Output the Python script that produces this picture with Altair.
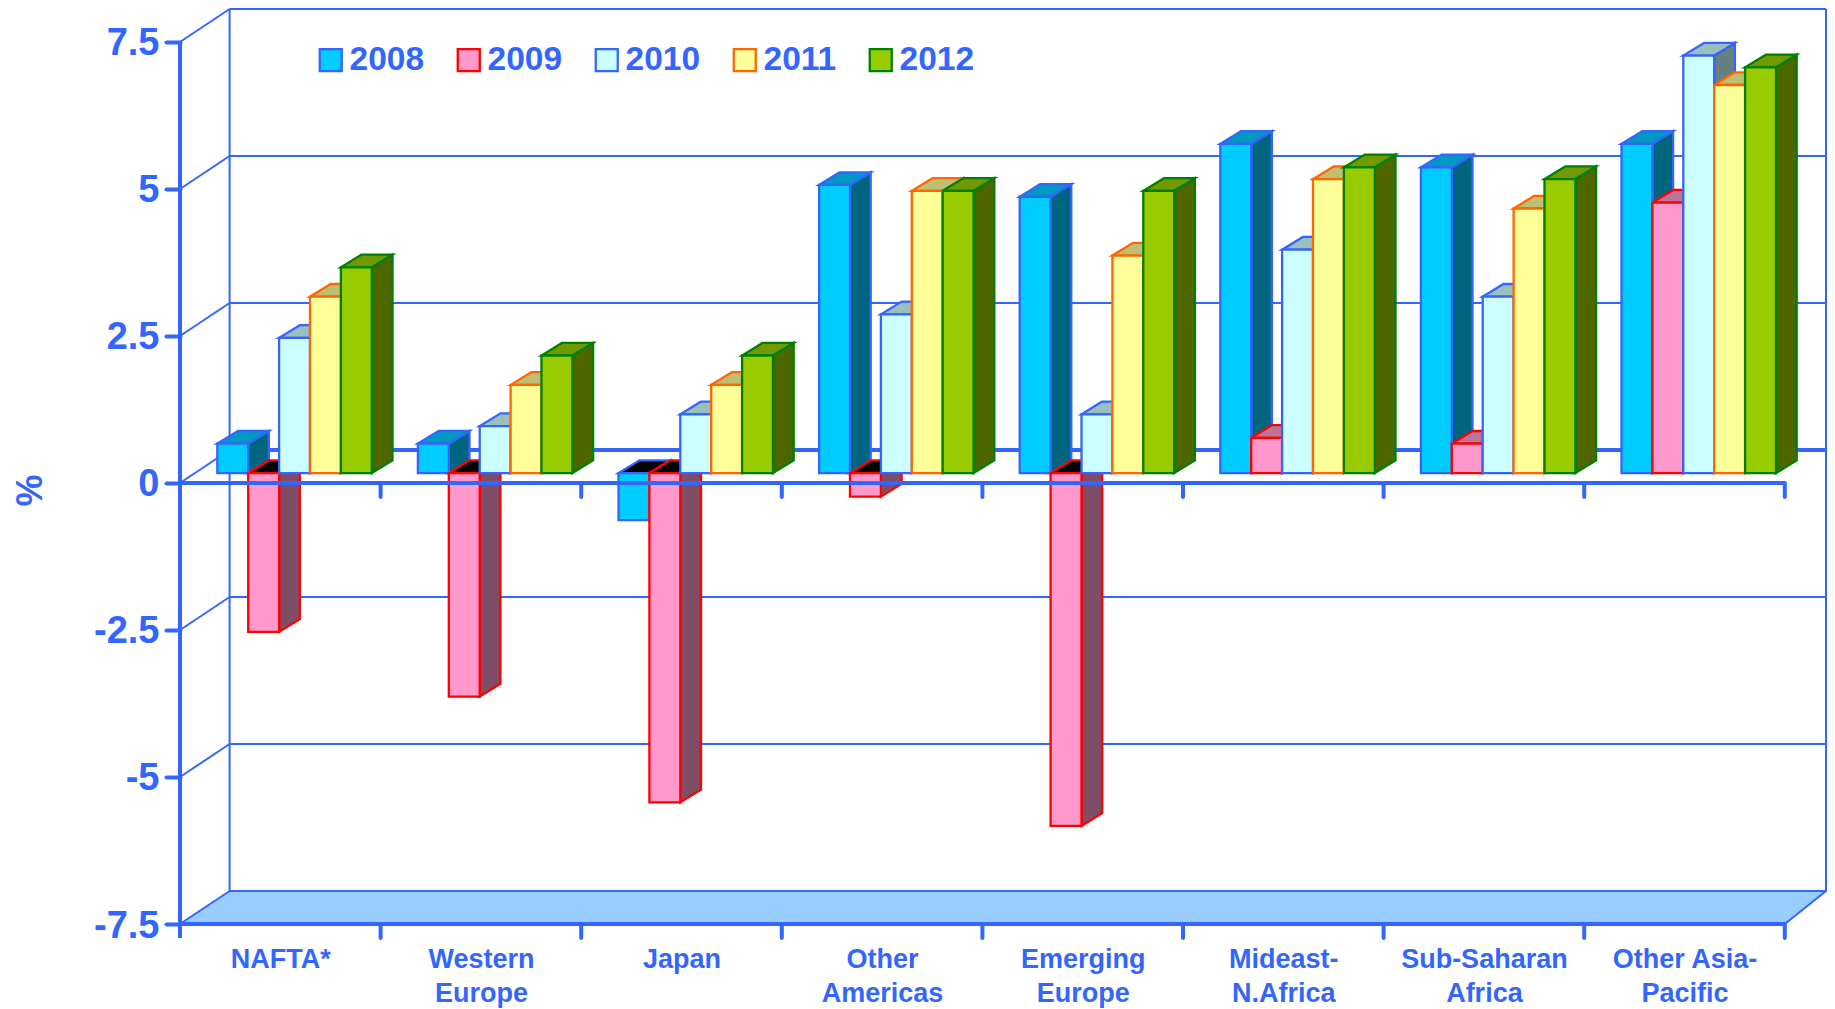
import altair as alt
import pandas as pd

categories = ["NAFTA*", "Western|Europe", "Japan", "Other|Americas", "Emerging|Europe",
              "Mideast-|N.Africa", "Sub-Saharan|Africa", "Other Asia-|Pacific"]
years = ["2008", "2009", "2010", "2011", "2012"]
v2008 = [0.5, 0.5, -0.8, 4.9, 4.7, 5.6, 5.2, 5.6]
v2009 = [-2.7, -3.8, -5.6, -0.4, -6.0, 0.6, 0.5, 4.6]
v2010 = [2.3, 0.8, 1.0, 2.7, 1.0, 3.8, 3.0, 7.1]
v2011 = [3.0, 1.5, 1.5, 4.8, 3.7, 5.0, 4.5, 6.6]
v2012 = [3.5, 2.0, 2.0, 4.8, 4.8, 5.2, 5.0, 6.9]
series = [v2008, v2009, v2010, v2011, v2012]

front_fill = ["#00CCFF", "#FF99CC", "#CCFFFF", "#FFFF99", "#99CC00"]
edge = ["#3366FF", "#FF0000", "#3366FF", "#FF6600", "#008000"]
top_fill = ["#0099BF", "#BF7399", "#99BFBF", "#BFBF73", "#739900"]
side_fill = ["#006680", "#804D66", "#668080", "#808040", "#4D6600"]
blue = "#3366FF"
floor_fill = "#99CCFF"
font = "Liberation Sans"
ticks = [7.5, 5, 2.5, 0, -2.5, -5, -7.5]

# projection of the chart's depth, in axis units
PX_X = 200.6
PX_Y = 58.85
wall_dx = 49.6 / PX_X
wall_dy = 33 / PX_Y
wall_right = 1646 / PX_X
bar_dx = 20.7 / PX_X
bar_dy = 12.7 / PX_Y
base = 9.9 / PX_Y
start = 37.3 / PX_X
bw = 30.9 / PX_X
tick_y = 14 / PX_Y
x_max = 1647 / PX_X
y_max = 7.5 + wall_dy

fronts, sides, tops = [], [], []
for s, vals in enumerate(series):
    for k, v in enumerate(vals):
        L = k + start + s * bw
        R = L + bw
        lo = base + min(v, 0)
        hi = base + max(v, 0)
        fid = f"{s}-{k}"
        fronts.append(dict(year=years[s], x=L, x2=R, y=lo, y2=hi))
        for t in (0, 1):
            sides.append(dict(id=fid, fill=side_fill[s], edge=edge[s],
                              x=R + t * bar_dx, y=lo + t * bar_dy, y2=hi + t * bar_dy))
            tops.append(dict(id=fid, fill=top_fill[s] if v >= 0 else "#000000", edge=edge[s],
                             y=hi + t * bar_dy, x=L + t * bar_dx, x2=R + t * bar_dx))

cat_js = "[" + ",".join("'" + c + "'" for c in categories) + "]"
X = alt.X("x:Q", scale=alt.Scale(domain=[0, x_max], nice=False, zero=False), title=None,
          axis=alt.Axis(values=[i + 0.5 for i in range(8)], domain=False, ticks=False, grid=False,
                        labelExpr=f"split({cat_js}[floor(datum.value)], '|')",
                        labelFont=font, labelFontWeight="bold", labelFontSize=27, labelColor=blue,
                        labelPadding=22, labelLineHeight=34, labelOverlap=False, labelBound=False,
                        labelFlush=False, labelAngle=0, labelAlign="center", labelBaseline="top"))
Y = alt.Y("y:Q", scale=alt.Scale(domain=[-7.5, y_max], nice=False, zero=False), title="%", stack=None,
          axis=alt.Axis(values=ticks, domain=False, grid=False, tickSize=14, tickWidth=4, tickColor=blue,
                        tickCap="round", labelExpr="'' + datum.value",
                        labelFont=font, labelFontWeight="bold", labelFontSize=38, labelColor=blue,
                        labelPadding=7, labelOffset=2, labelOverlap=False, labelBound=False, labelFlush=False,
                        titleFont=font, titleFontWeight="bold", titleFontSize=36, titleColor=blue,
                        titleX=-139, titleY=481, titleAngle=270, titleBaseline="alphabetic",
                        titleAlign="center"))


def lines(rows, width, cap="butt"):
    """rows: list of (x0, y0, x1, y1)"""
    recs = []
    for i, (a, b, c, d) in enumerate(rows):
        recs.append(dict(id=i, seq=0, x=a, y=b))
        recs.append(dict(id=i, seq=1, x=c, y=d))
    return alt.Chart(pd.DataFrame(recs)).mark_line(
        color=blue, strokeWidth=width, strokeCap=cap, interpolate="linear"
    ).encode(x=X, y=Y, detail="id:N", order="seq:Q")


floor_df = pd.DataFrame([
    dict(y=-7.5, x=0, x2=8),
    dict(y=-7.5 + wall_dy, x=wall_dx, x2=wall_right),
])
floor = alt.Chart(floor_df).mark_area(
    orient="horizontal", fill=floor_fill, stroke=blue, strokeWidth=2
).encode(x=X, x2="x2:Q", y=Y)

wall_rows = [(wall_dx, v + wall_dy, wall_right, v + wall_dy) for v in ticks if v not in (0, -7.5)]
wall_rows += [(wall_dx, -7.5 + wall_dy, wall_dx, y_max), (wall_right, -7.5 + wall_dy, wall_right, y_max)]
wall_rows += [(0, v, wall_dx, v + wall_dy) for v in ticks if v != -7.5]
wall = lines(wall_rows, 2)
back_zero = lines([(wall_dx, wall_dy, wall_right, wall_dy)], 4)

side_layer = alt.Chart(pd.DataFrame(sides)).mark_area(
    orient="vertical", strokeWidth=2.3, strokeJoin="miter", opacity=1
).encode(x=X, y=Y, y2="y2:Q", detail="id:N",
         fill=alt.Fill("fill:N", scale=None), stroke=alt.Stroke("edge:N", scale=None))

top_layer = alt.Chart(pd.DataFrame(tops)).mark_area(
    orient="horizontal", strokeWidth=2.3, strokeJoin="miter", opacity=1
).encode(x=X, x2="x2:Q", y=Y, detail="id:N",
         fill=alt.Fill("fill:N", scale=None), stroke=alt.Stroke("edge:N", scale=None))

legend = alt.Legend(orient="none", legendX=134, legendY=34, direction="horizontal", columns=5, title=None,
                    symbolType="square", symbolSize=484, symbolStrokeWidth=2.3, symbolOpacity=1,
                    labelFont=font, labelFontWeight="bold", labelFontSize=33.5, labelColor=blue,
                    labelOffset=2, columnPadding=27, labelLimit=200)
front_layer = alt.Chart(pd.DataFrame(fronts)).mark_rect(strokeWidth=2.3, opacity=1).encode(
    x=X, x2="x2:Q", y=Y, y2="y2:Q",
    fill=alt.Fill("year:N", scale=alt.Scale(domain=years, range=front_fill), legend=legend),
    stroke=alt.Stroke("year:N", scale=alt.Scale(domain=years, range=edge), legend=legend),
)

axis_rows = [(0, 0, 8, 0), (0, -7.5, 8, -7.5), (0, -7.5 - tick_y, 0, 7.5)]
front_axis = lines(axis_rows, 4)
tick_rows = [(k, 0 - tick_y, k, 0) for k in range(1, 9)] + [(k, -7.5 - tick_y, k, -7.5) for k in range(1, 9)]
tick_layer = lines(tick_rows, 4, cap="round")

chart = alt.layer(
    floor, wall, back_zero, side_layer, top_layer, front_layer, front_axis, tick_layer
).properties(
    width=1647, height=915,
    autosize=alt.AutoSizeParams(type="none"),
    padding={"left": 172, "top": 1, "right": 0, "bottom": 85},
).configure_view(stroke=None)

chart.save("out.html", embed_options={"renderer": "svg", "actions": False})
